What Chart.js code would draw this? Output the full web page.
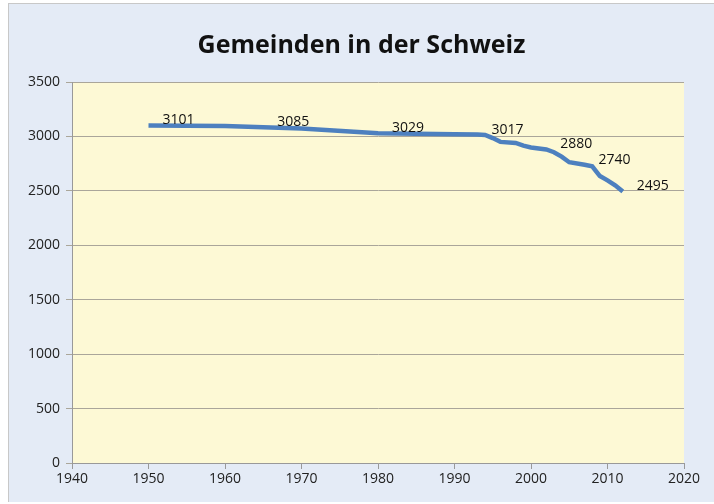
<!DOCTYPE html>
<html>
<head>
<meta charset="utf-8">
<script src="https://cdn.jsdelivr.net/npm/chart.js@4.4.0/dist/chart.umd.min.js"></script>
<style>
  html, body { margin: 0; padding: 0; background: #ffffff; }
  #wrap {
    position: absolute; left: 8px; top: 3px; width: 706px; height: 499px;
    background: #e4ebf6; border-top: 1px solid #c8c8c8; border-left: 1px solid #c8c8c8;
    box-sizing: border-box;
  }
</style>
</head>
<body>
<div id="wrap"><canvas id="grafico"></canvas></div>
<script>
const jahre = [1950, 1960, 1965, 1970, 1980, 1990, 1993, 1994, 1995, 1996, 1998, 1999, 2000, 2002, 2003, 2004, 2005, 2007, 2008, 2009, 2010, 2011, 2012];
const gemeinden = [3101, 3095, 3085, 3072, 3029, 3021, 3017, 3013, 2985, 2950, 2940, 2915, 2899, 2880, 2855, 2815, 2763, 2740, 2726, 2636, 2596, 2551, 2495];
const beschriftet = [1950, 1965, 1980, 1993, 2002, 2007, 2012];

const punkte = jahre.map((j, i) => ({ x: j, y: gemeinden[i] }));

const plotHintergrund = {
  id: 'plotHintergrund',
  beforeDraw(chart) {
    const a = chart.chartArea;
    const ctx = chart.ctx;
    ctx.save();
    ctx.fillStyle = '#fdf9d5';
    ctx.fillRect(a.left, a.top, a.right - a.left, a.bottom - a.top);
    ctx.restore();
  }
};

const werteBeschriftung = {
  id: 'werteBeschriftung',
  afterDatasetsDraw(chart) {
    const ctx = chart.ctx;
    const meta = chart.getDatasetMeta(0);
    ctx.save();
    ctx.font = '14px "Open Sans", sans-serif';
    ctx.fillStyle = '#111';
    ctx.textAlign = 'left';
    ctx.textBaseline = 'middle';
    meta.data.forEach((p, i) => {
      if (!beschriftet.includes(jahre[i])) return;
      ctx.fillText(String(gemeinden[i]), p.x + 14, p.y - 5);
    });
    ctx.restore();
  }
};

const ctx = document.getElementById('grafico').getContext('2d');
new Chart(ctx, {
  type: 'line',
  data: {
    datasets: [{
      data: punkte,
      borderColor: '#4d80bf',
      borderWidth: 4.5,
      pointRadius: 0,
      tension: 0,
      fill: false
    }]
  },
  options: {
    responsive: true,
    maintainAspectRatio: false,
    animation: false,
    layout: { padding: 0 },
    plugins: {
      legend: { display: false },
      tooltip: { enabled: false },
      title: {
        display: true,
        text: 'Gemeinden in der Schweiz',
        color: '#111',
        font: { family: '"Open Sans", sans-serif', size: 25, weight: 'bold' },
        padding: { top: 27, bottom: 21 }
      }
    },
    scales: {
      x: {
        type: 'linear',
        min: 1940,
        max: 2020,
        ticks: {
          stepSize: 10,
          color: '#222',
          font: { family: '"Open Sans", sans-serif', size: 14 },
          padding: 2,
          maxRotation: 0,
          callback: v => String(v)
        },
        grid: { drawOnChartArea: false, color: '#999', tickLength: 6 },
        border: { color: '#999' },
        afterFit(scale) { scale.height = 39; }
      },
      y: {
        min: 0,
        max: 3500,
        ticks: {
          stepSize: 500,
          color: '#222',
          font: { family: '"Open Sans", sans-serif', size: 14 },
          padding: 6,
          callback: v => String(v)
        },
        grid: { color: '#aaa69a', tickLength: 6 },
        border: { color: '#999' },
        afterFit(scale) { scale.width = 63; }
      },
      rechts: {
        position: 'right',
        min: 0,
        max: 3500,
        ticks: { display: false },
        grid: { display: false },
        border: { display: false },
        afterFit(scale) { scale.width = 30; }
      }
    }
  },
  plugins: [plotHintergrund, werteBeschriftung]
});
</script>
</body>
</html>
